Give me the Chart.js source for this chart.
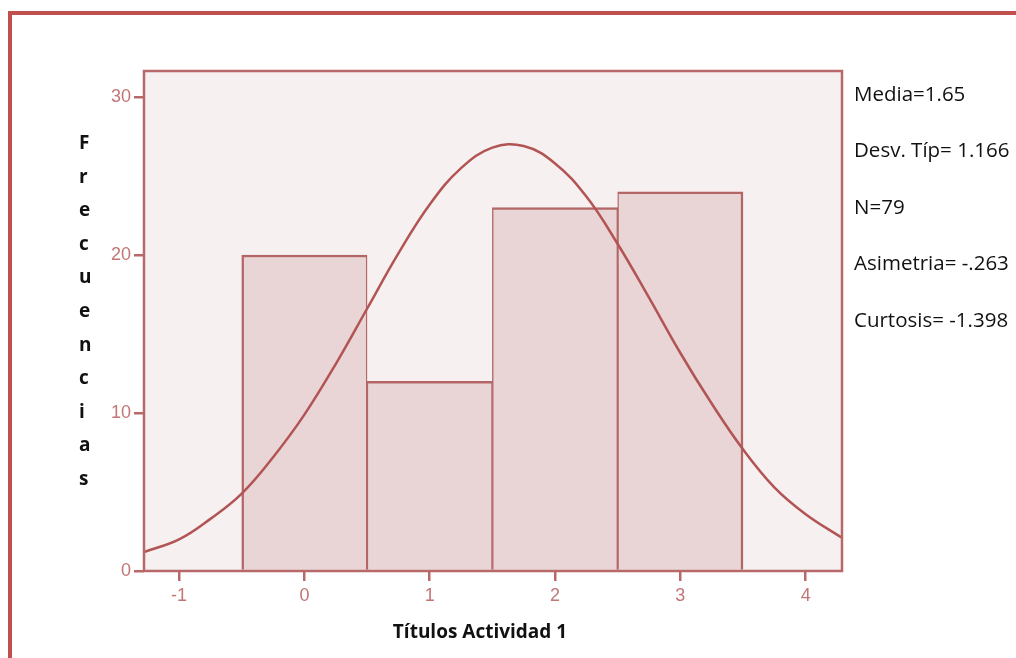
<!DOCTYPE html>
<html lang="es">
<head>
<meta charset="utf-8">
<title>Títulos Actividad 1 — Histograma</title>
<script src="https://cdn.jsdelivr.net/npm/chart.js@4.4.1/dist/chart.umd.min.js"></script>
<style>
  html, body { margin: 0; padding: 0; background: #ffffff; overflow: hidden; }
  #wrap { position: relative; width: 1016px; height: 658px; overflow: hidden; }
  #frame {
    position: absolute; left: 8px; top: 11px; width: 1100px; height: 760px;
    border-top: 4px solid #c0504d; border-left: 4px solid #c0504d;
  }
  #chart { position: absolute; left: 0; top: 0; }
  .txt { position: absolute; font-family: "Open Sans", "DejaVu Sans", sans-serif; color: #111; white-space: nowrap; }
  .stat { left: 854px; font-size: 20.5px; line-height: 20px; }
  #ytitle { left: 79px; top: 126px; font-size: 19px; line-height: 33.6px; font-weight: 700; }
  #xtitle { left: 480px; top: 622px; font-size: 19px; line-height: 19px; font-weight: 700; transform: translateX(-50%); }
</style>
</head>
<body>
<div id="wrap">
  <div id="frame"></div>
  <canvas id="chart" width="1016" height="658"></canvas>
  <div id="ytitle" class="txt"></div>
  <div id="xtitle" class="txt"></div>
  <div id="stats"></div>
</div>
<script>
// Histogram bins (centre of each bin) and their frequencies
const binCenters = [0, 1, 2, 3];
const frequencies = [20, 12, 23, 24];

// Fitted normal curve, sampled along the x axis
const curveX = [-1.28, -1.0, -0.75, -0.5, -0.25, 0.0, 0.25, 0.5, 0.75, 1.0, 1.25, 1.5,
                1.75, 2.0, 2.25, 2.5, 2.75, 3.0, 3.25, 3.5, 3.75, 4.0, 4.29];
const curveY = [1.2, 2.0, 3.3, 4.9, 7.2, 9.9, 13.1, 16.6, 20.1, 23.2, 25.5, 26.8,
                26.9, 25.8, 23.7, 20.7, 17.3, 13.8, 10.6, 7.7, 5.3, 3.6, 2.1];

// Axis titles and summary statistics
const xAxisTitle = "Títulos Actividad 1";
const yAxisTitle = "Frecuencias";
const statLines = ["Media=1.65", "Desv. Típ= 1.166", "N=79", "Asimetria= -.263", "Curtosis= -1.398"];
const statBaselines = [100.7, 157, 214, 270, 327];

// Text placement
document.getElementById("xtitle").textContent = xAxisTitle;
document.getElementById("ytitle").innerHTML = yAxisTitle.split("").join("<br>");
const statsBox = document.getElementById("stats");
statLines.forEach((s, i) => {
  const d = document.createElement("div");
  d.className = "txt stat";
  d.style.top = (statBaselines[i] - 18) + "px";
  d.textContent = s;
  statsBox.appendChild(d);
});

const AXIS_RED = "#b86868";
const TICK_TEXT = "#c27676";

// Plot panel: tinted background underneath, outline on top of the bars
const plotPanel = {
  id: "plotPanel",
  beforeDraw(chart) {
    const { ctx, chartArea: a } = chart;
    ctx.save();
    ctx.fillStyle = "#f6f0f0";
    ctx.fillRect(a.left, a.top, a.right - a.left, a.bottom - a.top);
    ctx.restore();
  },
  afterDatasetsDraw(chart) {
    const { ctx, chartArea: a } = chart;
    ctx.save();
    ctx.strokeStyle = AXIS_RED;
    ctx.lineWidth = 2.5;
    ctx.strokeRect(a.left, a.top, a.right - a.left, a.bottom - a.top);
    ctx.restore();
  }
};

new Chart(document.getElementById("chart"), {
  type: "bar",
  data: {
    datasets: [
      {
        type: "line",
        data: curveX.map((x, i) => ({ x, y: curveY[i] })),
        borderColor: "#b25454",
        borderWidth: 2.5,
        pointRadius: 0,
        tension: 0.4,
        fill: false,
        order: 0
      },
      {
        type: "bar",
        data: binCenters.map((x, i) => ({ x, y: frequencies[i] })),
        backgroundColor: "#e9d5d6",
        borderColor: "#b46666",
        // neighbouring bars share one edge, so inner sides are half width
        borderWidth: (c) => ({
          left: c.dataIndex === 0 ? 2.5 : 1.4,
          right: c.dataIndex === binCenters.length - 1 ? 2.5 : 1.4,
          top: 2.5,
          bottom: 0
        }),
        borderSkipped: false,
        barPercentage: 1,
        categoryPercentage: 1,
        order: 1
      }
    ]
  },
  options: {
    responsive: false,
    animation: false,
    devicePixelRatio: 1,
    layout: { padding: { left: 0, top: 71, right: 174, bottom: 0 } },
    plugins: { legend: { display: false }, tooltip: { enabled: false } },
    scales: {
      x: {
        type: "linear",
        min: -1.28,
        max: 4.29,
        offset: false,
        afterFit(scale) { scale.height = 87; },
        border: { display: false },
        grid: { offset: false, drawOnChartArea: false, drawTicks: true, tickLength: 10, color: AXIS_RED, lineWidth: 2.5 },
        ticks: {
          stepSize: 1,
          includeBounds: false,
          padding: 4,
          color: TICK_TEXT,
          font: { family: "Liberation Sans", size: 18 }
        }
      },
      y: {
        min: 0,
        max: 31.65,
        afterFit(scale) { scale.width = 144; },
        border: { display: false },
        grid: { drawOnChartArea: false, drawTicks: true, tickLength: 10, color: AXIS_RED, lineWidth: 2.5 },
        ticks: {
          stepSize: 10,
          includeBounds: false,
          padding: 3,
          color: TICK_TEXT,
          font: { family: "Liberation Sans", size: 18 }
        }
      }
    }
  },
  plugins: [plotPanel]
});
</script>
</body>
</html>
